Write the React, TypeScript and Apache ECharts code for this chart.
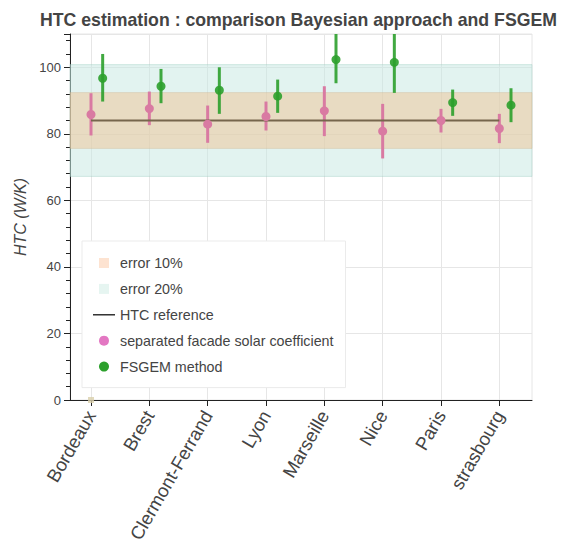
import React, { useEffect, useRef } from "react";
import * as echarts from "echarts";

const cities = ["Bordeaux", "Brest", "Clermont-Ferrand", "Lyon", "Marseille", "Nice", "Paris", "strasbourg"];

// separated facade solar coefficient (Bayesian)
const pinkMean = [85.8, 87.6, 82.9, 85.2, 86.9, 80.8, 84.0, 81.6];
const pinkLow = [79.5, 82.6, 77.3, 81.0, 79.3, 72.6, 80.4, 77.2];
const pinkHigh = [92.2, 92.7, 88.5, 89.7, 94.3, 89.0, 87.5, 86.0];

// FSGEM method
const greenMean = [96.7, 94.3, 93.1, 91.3, 102.3, 101.5, 89.4, 88.6];
const greenLow = [89.7, 89.2, 86.0, 86.3, 95.2, 92.3, 85.4, 83.5];
const greenHigh = [104.0, 99.5, 100.0, 96.3, 110, 110, 93.3, 93.7];

const htcReference = 84;
const band10 = [75.6, 92.4];
const band20 = [67.2, 100.8];
const xTicks = [0, 1, 2, 3, 4, 5, 6, 7];
const X_MIN = -0.36;
const X_MAX = 7.56;

const FONT = "Liberation Sans, Arial, Helvetica, sans-serif";
const GREEN_OFFSET = 0.2;

const errRender = (color: string) => (params: any, api: any) => {
  const x = api.value(0);
  const p1 = api.coord([x, api.value(1)]);
  const p2 = api.coord([x, api.value(2)]);
  return {
    type: "line",
    shape: { x1: p1[0], y1: p1[1], x2: p2[0], y2: p2[1] },
    style: { stroke: color, lineWidth: 3 },
  };
};

export default function App() {
  const ref = useRef<HTMLDivElement>(null);
  useEffect(() => {
    if (!ref.current) return;
    const chart = echarts.init(ref.current, undefined, { renderer: "svg" });
    const pinkColor = "#d97aa2";
    const greenColor = "rgba(44,160,44,0.9)";
    chart.setOption({
      animation: false,
      textStyle: { fontFamily: FONT },
      title: {
        text: "HTC estimation : comparison Bayesian approach and FSGEM",
        left: 35,
        top: 6,
        textStyle: { fontFamily: FONT, fontSize: 17.7, fontWeight: "bold", color: "#444" },
      },
      grid: {
        left: 70,
        right: 31,
        top: 34,
        bottom: 148,
        show: true,
        borderColor: "#e6e6e6",
        borderWidth: 1,
      },
      legend: {
        orient: "vertical",
        left: 82,
        top: 241,
        backgroundColor: "#ffffff",
        borderColor: "#ebebeb",
        borderWidth: 1,
        padding: [15, 12, 14, 11],
        itemWidth: 22,
        itemHeight: 10,
        itemGap: 11.9,
        textStyle: { fontFamily: FONT, fontSize: 14.3, color: "#444" },
        selectedMode: false,
        data: [
          { name: "error 10%", icon: "path://M0,0H10V10H0Z", itemStyle: { color: "#fddcc5" } },
          { name: "error 20%", icon: "path://M0,0H10V10H0Z", itemStyle: { color: "#e0f2ee" } },
          { name: "HTC reference", icon: "path://M0,0H22V1.3H0Z", itemStyle: { color: "#111" } },
          { name: "separated facade solar coefficient", icon: "circle", itemStyle: { color: "#e377c2" } },
          { name: "FSGEM method", icon: "circle", itemStyle: { color: "#2ca02c" } },
        ],
      },
      xAxis: {
        type: "value",
        min: X_MIN,
        max: X_MAX,
        axisLine: { show: true, onZero: false, lineStyle: { color: "#222", width: 1 } },
        axisTick: { show: true, customValues: xTicks, length: 6, lineStyle: { color: "#222" } },
        axisLabel: {
          customValues: xTicks,
          rotate: 60,
          fontSize: 18.5,
          color: "#444",
          fontFamily: FONT,
          margin: 12,
          formatter: (v: number) => cities[Math.round(v)] ?? "",
        },
        splitLine: { show: true, lineStyle: { color: "#e6e6e6", width: 1 } },
      },
      yAxis: {
        type: "value",
        min: 0,
        max: 110,
        interval: 20,
        name: "HTC (W/K)",
        nameLocation: "middle",
        nameGap: 42,
        nameTextStyle: { fontFamily: FONT, fontSize: 16, fontStyle: "italic", color: "#444" },
        axisLine: { show: true, onZero: false, lineStyle: { color: "#222", width: 1 } },
        axisTick: { show: true, length: 6, lineStyle: { color: "#222" } },
        minorTick: { show: true, splitNumber: 5, length: 4, lineStyle: { color: "#222", width: 1 } },
        axisLabel: {
          fontSize: 13,
          color: "#444",
          fontFamily: FONT,
          margin: 9,
          showMaxLabel: false,
        },
        splitLine: { show: true, lineStyle: { color: "#e6e6e6", width: 1 } },
      },
      series: [
        {
          name: "error 20%",
          type: "scatter",
          data: [],
          markArea: {
            silent: true,
            itemStyle: { color: "rgba(197,231,225,0.5)", borderColor: "rgba(150,200,190,0.35)", borderWidth: 1 },
            data: [[{ yAxis: band20[0] }, { yAxis: band20[1] }]],
          },
        },
        {
          name: "error 10%",
          type: "scatter",
          data: [[0, 0]],
          symbol: "rect",
          symbolSize: 6,
          itemStyle: { color: "#d9cfab" },
          markArea: {
            silent: true,
            itemStyle: { color: "rgba(238,196,147,0.5)", borderColor: "rgba(200,170,130,0.25)", borderWidth: 1 },
            data: [[{ yAxis: band10[0] }, { yAxis: band10[1] }]],
          },
        },
        {
          name: "HTC reference",
          type: "line",
          symbol: "none",
          data: [
            [0, htcReference],
            [7, htcReference],
          ],
          lineStyle: { color: "#76664d", width: 2 },
          itemStyle: { color: "#76664d" },
        },
        {
          name: "pinkErr",
          type: "custom",
          renderItem: errRender(pinkColor),
          data: cities.map((_, i) => [i, pinkLow[i], pinkHigh[i]]),
          z: 3,
        },
        {
          name: "separated facade solar coefficient",
          type: "scatter",
          symbolSize: 9,
          itemStyle: { color: pinkColor, opacity: 1 },
          data: cities.map((_, i) => [i, pinkMean[i]]),
          z: 4,
        },
        {
          name: "greenErr",
          type: "custom",
          renderItem: errRender(greenColor),
          data: cities.map((_, i) => [i + GREEN_OFFSET, greenLow[i], greenHigh[i]]),
          z: 3,
        },
        {
          name: "FSGEM method",
          type: "scatter",
          symbolSize: 9,
          itemStyle: { color: greenColor, opacity: 1 },
          data: cities.map((_, i) => [i + GREEN_OFFSET, greenMean[i]]),
          z: 4,
        },
      ],
    });
    return () => chart.dispose();
  }, []);
  return (
    <div
      ref={ref}
      style={{ position: "fixed", left: 0, top: 0, width: 563, height: 548, background: "#fff" }}
    />
  );
}
